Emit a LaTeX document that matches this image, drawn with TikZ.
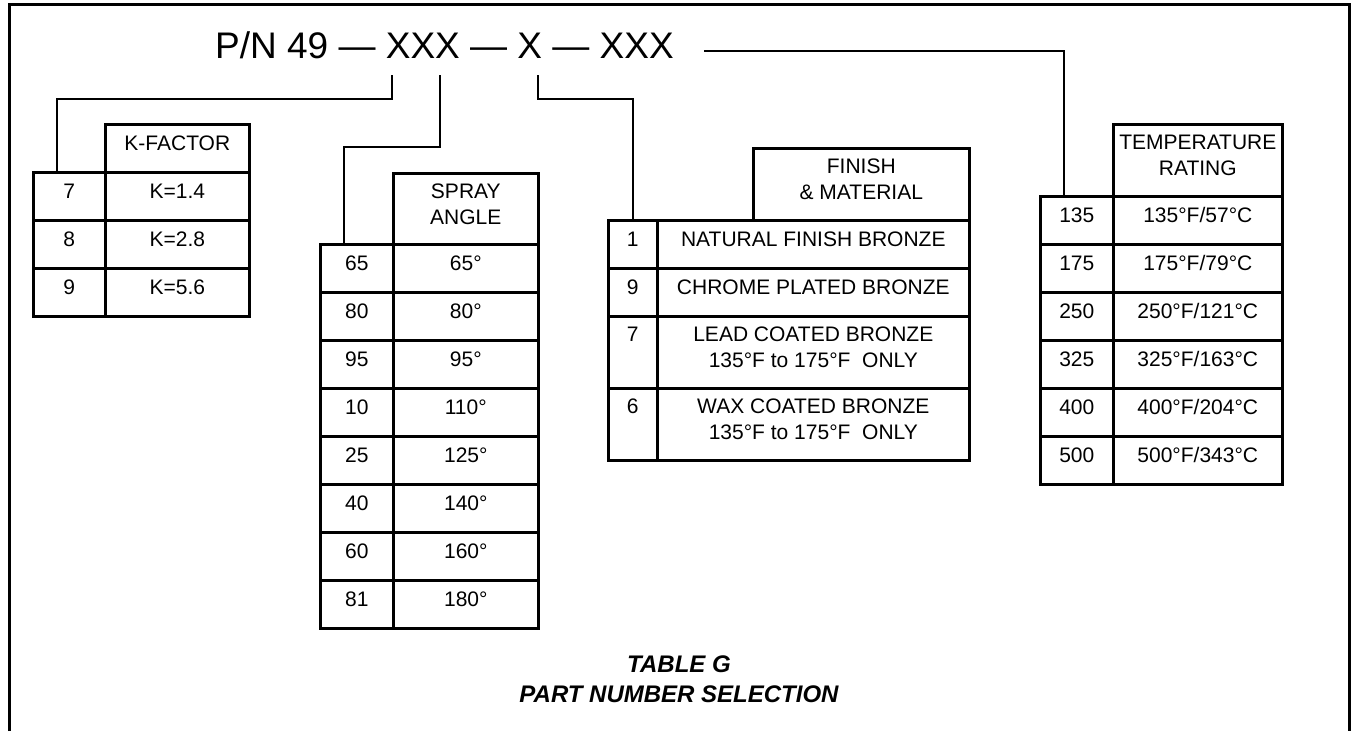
\documentclass[tikz,border=0pt]{standalone}
\usepackage{fontspec}
\setmainfont{Liberation Sans}
\usetikzlibrary{calc}

\newcommand{\low}{\rule[-10pt]{0pt}{10pt}}

\begin{document}
\begin{tikzpicture}[x=1pt,y=-1pt,
  cell/.style={draw, line width=2.6pt, anchor=north west, inner sep=0pt,
    minimum height=48, align=center, font=\fontsize{21}{26}\selectfont},
  link/.style={line width=2.2pt},
  frame/.style={line width=3pt}]
\useasboundingbox (0,0) rectangle (1351,731);

% Outer frame (open at the bottom)
\draw[frame] (9,731) -- (9,4) -- (1349,4) -- (1349,731);

% Part number
\node[anchor=base west, inner sep=0pt, font=\fontsize{37}{44}\selectfont]
  (pn) at (215,58) {P/N 49 — XXX — X — XXX};
\coordinate (pnA) at (392,75);
\coordinate (pnB) at (440,75);
\coordinate (pnC) at (538,75);
\coordinate (pnD) at (704,51);

% K-factor table
\node[cell, minimum width=144] (khead) at (104,123) {K-FACTOR\low};
\foreach \y/\code/\val in {171/7/K=1.4, 219/8/K=2.8, 267/9/K=5.6}{
  \node[cell, minimum width=72] (k\code) at (32,\y) {\code\low};
  \node[cell, minimum width=144] (kv\code) at (104,\y) {\val\low};
}

% Spray angle table
\node[cell, minimum width=145, minimum height=71] (shead) at (392,172) {SPRAY\\ANGLE\low};
\foreach \y/\code/\val in {243/65/65°, 291/80/80°, 339/95/95°, 387/10/110°,
  435/25/125°, 483/40/140°, 531/60/160°, 579/81/180°}{
  \node[cell, minimum width=73] (s\code) at (319,\y) {\code\low};
  \node[cell, minimum width=145] (sv\code) at (392,\y) {\val\low};
}

% Finish & material table
\node[cell, minimum width=216, minimum height=72] (fhead) at (752,147) {FINISH\\\& MATERIAL\low};
\foreach \y/\code/\h/\lead/\val in {
  219/1/48/1/{NATURAL FINISH BRONZE},
  267/9/48/9/{CHROME PLATED BRONZE},
  315/7/72/{7\\}/{LEAD COATED BRONZE\\135°F to 175°F\ \ ONLY},
  387/6/72/{6\\}/{WAX COATED BRONZE\\135°F to 175°F\ \ ONLY}}{
  \node[cell, minimum width=49, minimum height=\h] (f\code) at (607,\y) {\lead\low};
  \node[cell, minimum width=312, minimum height=\h] (fv\code) at (656,\y) {\val\low};
}

% Temperature rating table
\node[cell, minimum width=169, minimum height=72] (thead) at (1112,123) {TEMPERATURE\\RATING\low};
\foreach \y/\code/\val in {195/135/{135°F/57°C}, 243/175/{175°F/79°C},
  291/250/{250°F/121°C}, 339/325/{325°F/163°C}, 387/400/{400°F/204°C},
  435/500/{500°F/343°C}}{
  \node[cell, minimum width=73] (t\code) at (1039,\y) {\code\low};
  \node[cell, minimum width=169] (tv\code) at (1112,\y) {\val\low};
}

% Leaders from the part number
\draw[link] (pnA) -- ++(0,24) -| ([xshift=-12pt]k7.north);
\draw[link] (pnB) -- ++(0,72) -| ([xshift=-12.5pt]s65.north);
\draw[link] (pnC) -- ++(0,24) -| (f1.north);
\draw[link] (pnD) -| ([xshift=-12.5pt]t135.north);

% Caption
\node[anchor=north, align=center, inner sep=0pt,
  font=\fontsize{24}{30}\selectfont\bfseries\itshape]
  (cap) at (679,655.5) {TABLE G\\PART NUMBER SELECTION};
\end{tikzpicture}
\end{document}
